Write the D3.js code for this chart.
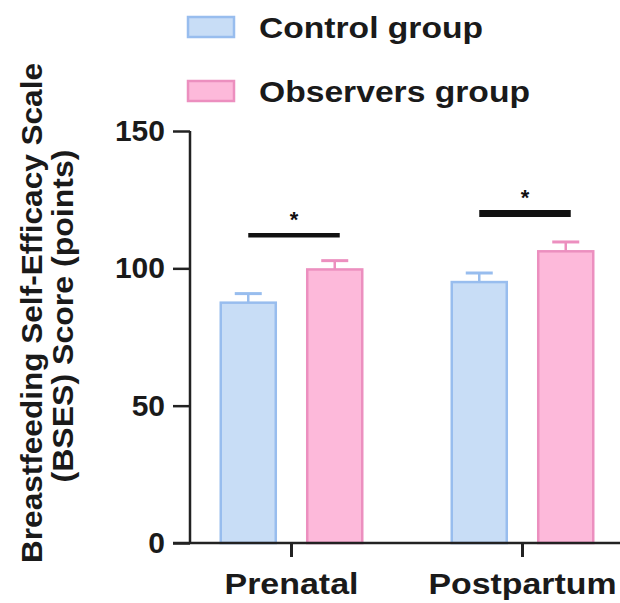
<!DOCTYPE html>
<html>
<head>
<meta charset="utf-8">
<script src="https://d3js.org/d3.v7.min.js"></script>
<style>
  body { margin: 0; background: #fff; }
  svg { display: block; font-family: "Liberation Sans", Arial, sans-serif; }
</style>
</head>
<body>
<div id="chart"></div>
<script>
  // data
  const categories = ['Prenatal', 'Postpartum'];
  const groups = ['Control group', 'Observers group'];
  const controlMeans = [87.5, 95.0];
  const controlSem = [3.3, 3.3];
  const observersMeans = [99.6, 106.2];
  const observersSem = [3.2, 3.4];
  const sigLevels = [112, 120];
  const sigMarks = ['*', '*'];
  const yTicks = [0, 50, 100, 150];

  const width = 620;
  const height = 603;
  const fills = ['#c8ddf6', '#fdb9da'];
  const strokes = ['#98bdee', '#ec8fbf'];

  const svg = d3.select('#chart').append('svg')
    .attr('width', width)
    .attr('height', height);

  const x = d3.scaleBand().domain(categories).range([176, 638]).padding(0);
  const xSub = d3.scaleBand().domain(groups).range([-72, 72]).paddingInner(0.335);
  const y = d3.scaleLinear().domain([0, 150]).range([543, 131]);

  const rows = [];
  categories.forEach((c, i) => {
    rows.push({ cat: c, group: groups[0], mean: controlMeans[i], sem: controlSem[i], k: 0 });
    rows.push({ cat: c, group: groups[1], mean: observersMeans[i], sem: observersSem[i], k: 1 });
  });
  const cx = d => x(d.cat) + x.bandwidth() / 2;

  // error bars (upper only)
  const err = svg.append('g');
  err.selectAll('line.v').data(rows).enter().append('line')
    .attr('x1', d => cx(d) + xSub(d.group) + xSub.bandwidth() / 2)
    .attr('x2', d => cx(d) + xSub(d.group) + xSub.bandwidth() / 2)
    .attr('y1', d => y(d.mean))
    .attr('y2', d => y(d.mean + d.sem))
    .attr('stroke', d => strokes[d.k]).attr('stroke-width', 2.5);
  err.selectAll('line.c').data(rows).enter().append('line')
    .attr('x1', d => cx(d) + xSub(d.group) + xSub.bandwidth() / 2 - 13.5)
    .attr('x2', d => cx(d) + xSub(d.group) + xSub.bandwidth() / 2 + 13.5)
    .attr('y1', d => y(d.mean + d.sem))
    .attr('y2', d => y(d.mean + d.sem))
    .attr('stroke', d => strokes[d.k]).attr('stroke-width', 3);

  // bars
  svg.append('g').selectAll('rect').data(rows).enter().append('rect')
    .attr('x', d => cx(d) + xSub(d.group) + 1.25)
    .attr('y', d => y(d.mean))
    .attr('width', xSub.bandwidth() - 2.5)
    .attr('height', d => y(0) - y(d.mean))
    .attr('fill', d => fills[d.k])
    .attr('stroke', d => strokes[d.k])
    .attr('stroke-width', 2.5);

  // y axis
  const yAxis = svg.append('g')
    .attr('transform', 'translate(190,0)')
    .call(d3.axisLeft(y).tickValues(yTicks).tickSize(17).tickSizeOuter(0).tickPadding(8));
  yAxis.select('.domain').attr('stroke', '#222').attr('stroke-width', 2.5)
    .attr('d', `M0,${y(150)}V${y(0) + 1}`);
  yAxis.selectAll('.tick line').attr('stroke', '#222').attr('stroke-width', 2.5);
  yAxis.selectAll('.tick text')
    .attr('font-size', 30).attr('font-weight', 'bold').attr('fill', '#1a1a1a')
    .attr('font-family', '"Liberation Sans", Arial, sans-serif');

  // x axis
  const xAxis = svg.append('g')
    .attr('transform', `translate(0,${y(0)})`)
    .call(d3.axisBottom(x).tickSize(14).tickSizeOuter(0).tickPadding(16));
  xAxis.select('.domain').attr('stroke', '#222').attr('stroke-width', 2.5)
    .attr('d', `M173,0H${width}`);
  xAxis.selectAll('.tick line').attr('stroke', '#222').attr('stroke-width', 3);
  xAxis.selectAll('.tick text')
    .attr('font-size', 30).attr('font-weight', 'bold').attr('fill', '#1a1a1a')
    .attr('font-family', '"Liberation Sans", Arial, sans-serif')
    .attr('textLength', d => d === 'Prenatal' ? 134 : 188)
    .attr('lengthAdjust', 'spacingAndGlyphs');

  // significance bars
  const sig = svg.append('g');
  categories.forEach((c, i) => {
    const c0 = x(c) + x.bandwidth() / 2 + xSub(groups[0]) + xSub.bandwidth() / 2;
    const c1 = x(c) + x.bandwidth() / 2 + xSub(groups[1]) + xSub.bandwidth() / 2 + 5;
    sig.append('line')
      .attr('x1', c0).attr('x2', c1)
      .attr('y1', y(sigLevels[i])).attr('y2', y(sigLevels[i]))
      .attr('stroke', '#111').attr('stroke-width', i === 0 ? 4.5 : 7);
    sig.append('text')
      .attr('x', (c0 + c1) / 2).attr('y', y(sigLevels[i]) - 8)
      .attr('text-anchor', 'middle')
      .attr('font-size', 22).attr('font-weight', 'bold').attr('fill', '#111')
      .text(sigMarks[i]);
  });

  // y label
  const yl = svg.append('g').attr('transform', 'rotate(-90)');
  yl.append('text')
    .attr('x', -313).attr('y', 42)
    .attr('text-anchor', 'middle')
    .attr('font-size', 29).attr('font-weight', 'bold').attr('fill', '#1a1a1a')
    .attr('textLength', 500).attr('lengthAdjust', 'spacingAndGlyphs')
    .text('Breastfeeding Self-Efficacy Scale');
  yl.append('text')
    .attr('x', -316).attr('y', 73)
    .attr('text-anchor', 'middle')
    .attr('font-size', 29).attr('font-weight', 'bold').attr('fill', '#1a1a1a')
    .attr('textLength', 333).attr('lengthAdjust', 'spacingAndGlyphs')
    .text('(BSES) Score (points)');

  // legend
  const legend = svg.append('g').selectAll('g').data(groups).enter().append('g')
    .attr('transform', (d, i) => `translate(188,${17 + i * 64})`);
  legend.append('rect')
    .attr('width', 46).attr('height', 20)
    .attr('fill', (d, i) => fills[i])
    .attr('stroke', (d, i) => strokes[i])
    .attr('stroke-width', 2.5);
  legend.append('text')
    .attr('x', 71).attr('y', 21)
    .attr('font-size', 30).attr('font-weight', 'bold').attr('fill', '#1a1a1a')
    .attr('textLength', (d, i) => i === 0 ? 224 : 271)
    .attr('lengthAdjust', 'spacingAndGlyphs')
    .text(d => d);
</script>
</body>
</html>
